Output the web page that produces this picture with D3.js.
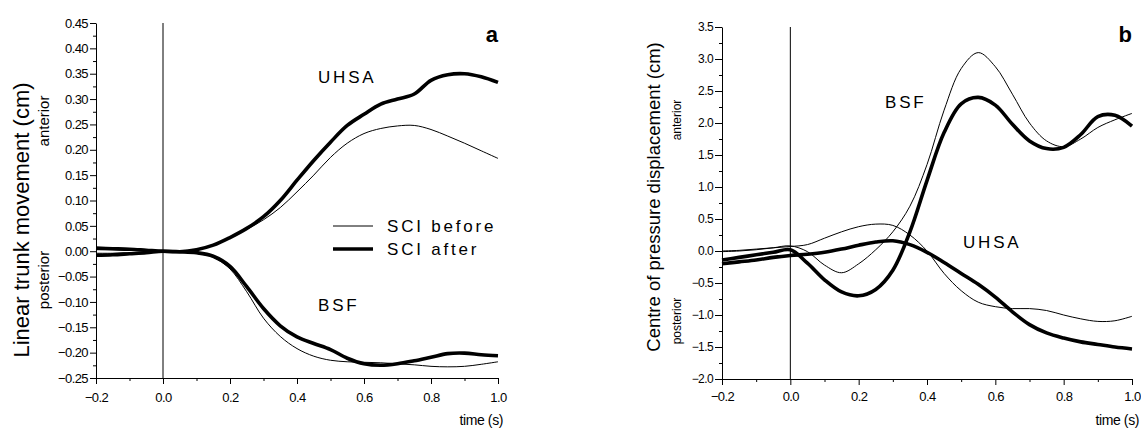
<!DOCTYPE html>
<html>
<head>
<meta charset="utf-8">
<script src="https://cdn.jsdelivr.net/npm/d3@7/dist/d3.min.js"></script>
<style>
	body { margin: 0; background: #fff; }
	text { font-family: "Liberation Sans", Arial, sans-serif; fill: #000; }
</style>
</head>
<body>
<div></div>
<script>
// time axis shared by every series (s)
var times = [-0.2, -0.15, -0.1, -0.05, 0, 0.05, 0.1, 0.15, 0.2, 0.25, 0.3, 0.35, 0.4,
	0.45, 0.5, 0.55, 0.6, 0.65, 0.7, 0.75, 0.8, 0.85, 0.9, 0.95, 1.0];

// panel a : linear trunk movement (cm)
var uhsaBeforeA = [0.003, 0.003, 0.002, 0.001, 0, 0, 0.004, 0.012, 0.027, 0.043, 0.062, 0.086, 0.117,
	0.15, 0.185, 0.213, 0.232, 0.242, 0.247, 0.248, 0.24, 0.227, 0.213, 0.198, 0.183];
var uhsaAfterA = [0.006, 0.005, 0.004, 0.002, 0, -0.001, 0.003, 0.012, 0.027, 0.045, 0.068, 0.1, 0.14,
	0.179, 0.215, 0.248, 0.27, 0.29, 0.3, 0.31, 0.337, 0.348, 0.35, 0.344, 0.333];
var bsfBeforeA = [-0.004, -0.004, -0.003, -0.002, 0, -0.001, -0.004, -0.012, -0.035, -0.08, -0.132, -0.168, -0.192,
	-0.207, -0.215, -0.218, -0.219, -0.22, -0.222, -0.224, -0.227, -0.228, -0.227, -0.223, -0.218];
var bsfAfterA = [-0.008, -0.007, -0.005, -0.003, 0, -0.001, -0.003, -0.01, -0.03, -0.07, -0.113, -0.147, -0.169,
	-0.182, -0.194, -0.211, -0.222, -0.225, -0.222, -0.216, -0.209, -0.202, -0.201, -0.204, -0.206];

// panel b : centre of pressure displacement (cm)
var bsfBeforeB = [-0.01, 0.0, 0.02, 0.05, 0.08, -0.01, -0.22, -0.34, -0.2, 0.02, 0.3, 0.7, 1.35,
	2.2, 2.85, 3.1, 2.88, 2.45, 2.0, 1.72, 1.63, 1.75, 1.93, 2.05, 2.15];
var bsfAfterB = [-0.14, -0.1, -0.06, -0.02, 0.02, -0.19, -0.45, -0.64, -0.7, -0.6, -0.3, 0.3, 1.1,
	1.85, 2.3, 2.4, 2.28, 1.98, 1.72, 1.6, 1.62, 1.82, 2.1, 2.12, 1.95];
var uhsaBeforeB = [0.0, 0.01, 0.03, 0.05, 0.07, 0.1, 0.2, 0.3, 0.38, 0.42, 0.4, 0.25, 0.0,
	-0.35, -0.62, -0.8, -0.87, -0.9, -0.9, -0.93, -1.0, -1.06, -1.1, -1.09, -1.02];
var uhsaAfterB = [-0.2, -0.17, -0.14, -0.1, -0.07, -0.05, -0.02, 0.03, 0.09, 0.14, 0.16, 0.1, -0.02,
	-0.18, -0.35, -0.52, -0.72, -0.95, -1.15, -1.28, -1.36, -1.42, -1.46, -1.5, -1.53];

// tick labels
var xTicks = [-0.2, 0.0, 0.2, 0.4, 0.6, 0.8, 1.0];
var xMinorTicks = [-0.1, 0.1, 0.3, 0.5, 0.7, 0.9];
var yTicksA = [-0.25, -0.2, -0.15, -0.1, -0.05, 0, 0.05, 0.1, 0.15, 0.2, 0.25, 0.3, 0.35, 0.4, 0.45];
var yTicksB = [-2.0, -1.5, -1.0, -0.5, 0, 0.5, 1.0, 1.5, 2.0, 2.5, 3.0, 3.5];
var legendNames = ["SCI before", "SCI after"];

var svg = d3.select("body").select("div").append("svg")
	.attr("width", 1141)
	.attr("height", 431);

function minorOf(ticks) {
	var m = [];
	for (var i = 0; i < ticks.length - 1; i++) m.push((ticks[i] + ticks[i + 1]) / 2);
	return m;
}

function drawPanel(p) {
	var g = svg.append("g");
	var x = d3.scaleLinear().domain([-0.2, 1.0]).range(p.xRange);
	var y = d3.scaleLinear().domain(p.yDomain).range(p.yRange);

	// minor ticks first, then major axes on top
	g.append("g")
		.attr("transform", "translate(0," + p.yRange[0] + ")")
		.call(d3.axisBottom(x).tickValues(xMinorTicks).tickSize(3).tickFormat(""))
		.call(function(s) { s.select(".domain").remove(); });
	g.append("g")
		.attr("transform", "translate(" + p.xRange[0] + ",0)")
		.call(d3.axisLeft(y).tickValues(minorOf(p.yTicks)).tickSize(3).tickFormat(""))
		.call(function(s) { s.select(".domain").remove(); });

	var xAxis = g.append("g")
		.attr("transform", "translate(0," + p.yRange[0] + ")")
		.call(d3.axisBottom(x).tickValues(xTicks).tickSize(6).tickSizeOuter(0)
			.tickPadding(p.xPad).tickFormat(d3.format(".1f")));
	var yAxis = g.append("g")
		.attr("transform", "translate(" + p.xRange[0] + ",0)")
		.call(d3.axisLeft(y).tickValues(p.yTicks).tickSize(p.yTickSize).tickSizeOuter(0)
			.tickPadding(p.yPad).tickFormat(d3.format(p.yFormat)));

	[xAxis, yAxis].forEach(function(a) {
		a.selectAll("text")
			.style("font-size", "13px")
			.style("letter-spacing", "-0.6px")
			.style("font-family", "'Liberation Sans', Arial, sans-serif");
		a.selectAll("path,line").attr("stroke", "#000");
	});
	yAxis.selectAll("text").style("font-size", p.yFont);

	// stimulus onset line
	g.append("line")
		.attr("x1", x(0)).attr("x2", x(0))
		.attr("y1", p.yRange[1]).attr("y2", p.yRange[0])
		.attr("stroke", "#000")
		.attr("stroke-width", 1);

	var line = d3.line()
		.x(function(d, i) { return x(times[i]); })
		.y(function(d) { return y(d); })
		.curve(d3.curveCatmullRom.alpha(0.5));

	p.series.forEach(function(s) {
		g.append("path")
			.datum(s.values)
			.attr("d", line)
			.attr("fill", "none")
			.attr("stroke", "#000")
			.attr("stroke-width", s.thick ? 3.6 : 1)
			.attr("stroke-linejoin", "round");
	});

	// axis titles
	g.append("text")
		.attr("transform", "translate(" + p.titleX + "," + p.titleY + ") rotate(-90)")
		.attr("text-anchor", "middle")
		.style("font-size", p.titleFont)
		.text(p.title);
	g.append("text")
		.attr("transform", "translate(" + p.subX + "," + p.anteriorY + ") rotate(-90)")
		.attr("text-anchor", "middle")
		.style("font-size", p.subFont)
		.text("anterior");
	g.append("text")
		.attr("transform", "translate(" + p.subX + "," + p.posteriorY + ") rotate(-90)")
		.attr("text-anchor", "middle")
		.style("font-size", p.subFont)
		.text("posterior");
	g.append("text")
		.attr("x", p.timeX).attr("y", 425)
		.attr("text-anchor", "end")
		.style("font-size", "14px")
		.style("letter-spacing", "-0.4px")
		.text("time (s)");

	// panel letter
	g.append("text")
		.attr("x", p.xRange[1]).attr("y", 42)
		.attr("text-anchor", "end")
		.style("font-size", "22px")
		.style("font-weight", "bold")
		.text(p.letter);

	// curve labels
	p.labels.forEach(function(l) {
		g.append("text")
			.attr("x", l.x).attr("y", l.y)
			.style("font-size", "17px")
			.style("letter-spacing", "2.8px")
			.text(l.text);
	});

	return g;
}

var panelA = drawPanel({
	xRange: [96, 498], yDomain: [-0.25, 0.45], yRange: [378, 23],
	yTicks: yTicksA, yFormat: ".2f", yFont: "13px", yTickSize: 6, yPad: 2, xPad: 9,
	title: "Linear trunk movement (cm)", titleFont: "22px", titleX: 29, titleY: 220,
	subX: 49, subFont: "15px", anteriorY: 121, posteriorY: 280,
	timeX: 503, letter: "a",
	series: [
		{ values: uhsaBeforeA, thick: false },
		{ values: bsfBeforeA, thick: false },
		{ values: uhsaAfterA, thick: true },
		{ values: bsfAfterA, thick: true }
	],
	labels: [
		{ text: "UHSA", x: 318, y: 83 },
		{ text: "BSF", x: 318, y: 311 }
	]
});

var panelB = drawPanel({
	xRange: [722, 1132], yDomain: [-2.0, 3.5], yRange: [379, 27],
	yTicks: yTicksB, yFormat: ".1f", yFont: "12px", yTickSize: 7, yPad: 2, xPad: 7,
	title: "Centre of pressure displacement (cm)", titleFont: "18.5px", titleX: 660, titleY: 197,
	subX: 681, subFont: "12px", anteriorY: 120, posteriorY: 321,
	timeX: 1139, letter: "b",
	series: [
		{ values: bsfBeforeB, thick: false },
		{ values: uhsaBeforeB, thick: false },
		{ values: bsfAfterB, thick: true },
		{ values: uhsaAfterB, thick: true }
	],
	labels: [
		{ text: "BSF", x: 885, y: 108 },
		{ text: "UHSA", x: 963, y: 248 }
	]
});

// legend inside panel a
var legend = panelA.append("g");
legendNames.forEach(function(name, i) {
	var ly = 226 + i * 23;
	legend.append("line")
		.attr("x1", 333).attr("x2", 373)
		.attr("y1", ly).attr("y2", ly)
		.attr("stroke", "#000")
		.attr("stroke-width", i == 0 ? 1 : 3.6);
	legend.append("text")
		.attr("x", 387).attr("y", ly + 6)
		.style("font-size", "17px")
		.style("letter-spacing", "2.8px")
		.text(name);
});
</script>
</body>
</html>
